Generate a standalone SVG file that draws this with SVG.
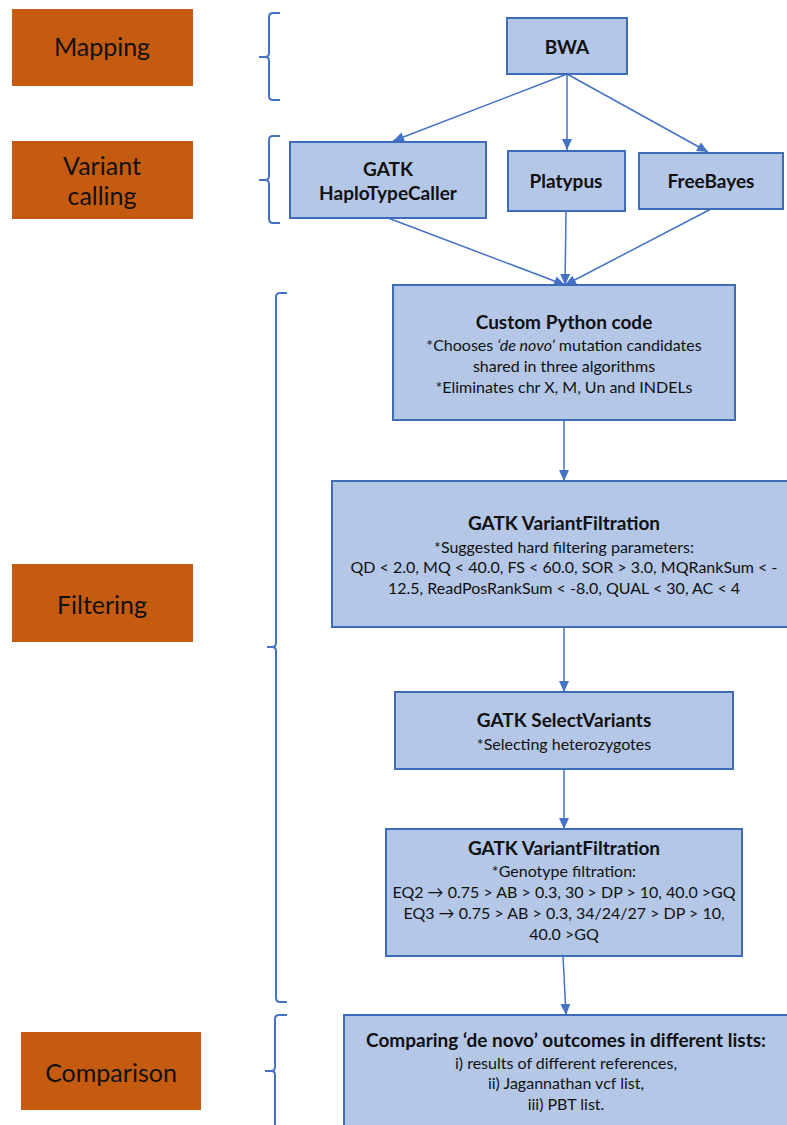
<svg xmlns="http://www.w3.org/2000/svg" width="787" height="1125" viewBox="0 0 787 1125">
<defs>
<style>
.stage{fill:#C55A11;}
.stxt{font-family:Lato,"Liberation Sans",sans-serif;font-size:25px;fill:#111;text-anchor:middle;}
.box{fill:#B4C7E7;stroke:#3F6CB8;stroke-width:2;}
.t{font-family:Lato,"Liberation Sans",sans-serif;font-size:19px;font-weight:bold;fill:#111;text-anchor:middle;}
.b{font-family:Lato,"Liberation Sans",sans-serif;font-size:16px;fill:#111;text-anchor:middle;}
.con line{stroke:#4472C4;stroke-width:1.5;fill:none;marker-end:url(#ah);}
.br{stroke:#4472C4;stroke-width:2;fill:none;}
</style>
<marker id="ah" markerUnits="userSpaceOnUse" markerWidth="12" markerHeight="10" refX="11" refY="5" orient="auto">
<path d="M0,0 L11,5 L0,10 z" fill="#4472C4"/>
</marker>
</defs>
<rect width="787" height="1125" fill="#ffffff"/>

<g id="stage-mapping"><rect class="stage" x="12" y="9" width="181" height="77"/><text class="stxt" x="102" y="56">Mapping</text></g>
<g id="stage-variant"><rect class="stage" x="12" y="141" width="181" height="78"/><text class="stxt" x="102" y="175">Variant</text><text class="stxt" x="102" y="205">calling</text></g>
<g id="stage-filtering"><rect class="stage" x="12" y="564" width="181" height="78"/><text class="stxt" x="102" y="614">Filtering</text></g>
<g id="stage-comparison"><rect class="stage" x="21" y="1032" width="180" height="78"/><text class="stxt" x="111" y="1082">Comparison</text></g>

<g id="brackets">
<path class="br" d="M280,13 H273 Q269,13 269,17 V53 Q269,57 265,57 H259 H265 Q269,57 269,61 V96 Q269,100 273,100 H280"/>
<path class="br" d="M280,136 H273 Q269,136 269,140 V176 Q269,180 265,180 H259 H265 Q269,180 269,184 V219 Q269,223 273,223 H280"/>
<path class="br" d="M287,293 H280 Q276,293 276,297 V643 Q276,647 272,647 H267 H272 Q276,647 276,651 V998 Q276,1002 280,1002 H287"/>
<path class="br" d="M287,1015 H279 Q275,1015 275,1019 V1067 Q275,1071 271,1071 H265 H271 Q275,1071 275,1075 V1130"/>
</g>

<g id="connectors" class="con">
<line x1="567" y1="74" x2="393" y2="141"/>
<line x1="567" y1="74" x2="567" y2="150"/>
<line x1="567" y1="74" x2="708" y2="152"/>
<line x1="388" y1="218" x2="565" y2="285"/>
<line x1="566" y1="211" x2="565" y2="285"/>
<line x1="711" y1="209" x2="565" y2="285"/>
<line x1="564" y1="420" x2="564" y2="481"/>
<line x1="564" y1="627" x2="564" y2="692"/>
<line x1="564" y1="769" x2="564" y2="829"/>
<line x1="563" y1="956" x2="566" y2="1015"/>
</g>

<g id="bwa"><rect class="box" x="507" y="18" width="120" height="56"/><text class="t" x="567" y="54">BWA</text></g>
<g id="gatk-hc"><rect class="box" x="290" y="142" width="196" height="76"/><text class="t" x="388" y="176">GATK</text><text class="t" x="388" y="200">HaploTypeCaller</text></g>
<g id="platypus"><rect class="box" x="508" y="151" width="117" height="60"/><text class="t" x="566" y="188">Platypus</text></g>
<g id="freebayes"><rect class="box" x="639" y="153" width="144" height="56"/><text class="t" x="711" y="188">FreeBayes</text></g>

<g id="custom-python"><rect class="box" x="393" y="285" width="342" height="135"/>
<text class="t" x="564" y="329">Custom Python code</text>
<text class="b" x="564" y="351">*Chooses <tspan font-style="italic">‘de novo’</tspan> mutation candidates</text>
<text class="b" x="564" y="372">shared in three algorithms</text>
<text class="b" x="564" y="393">*Eliminates chr X, M, Un and INDELs</text>
</g>

<g id="variantfiltration-1"><rect class="box" x="332" y="481" width="470" height="146"/>
<text class="t" x="564" y="530">GATK VariantFiltration</text>
<text class="b" x="564" y="553">*Suggested hard filtering parameters:</text>
<text class="b" x="564" y="573">QD &lt; 2.0, MQ &lt; 40.0, FS &lt; 60.0, SOR &gt; 3.0, MQRankSum &lt; -</text>
<text class="b" x="564" y="594">12.5, ReadPosRankSum &lt; -8.0, QUAL &lt; 30, AC &lt; 4</text>
</g>

<g id="selectvariants"><rect class="box" x="395" y="692" width="338" height="77"/>
<text class="t" x="564" y="727">GATK SelectVariants</text>
<text class="b" x="564" y="750">*Selecting heterozygotes</text>
</g>

<g id="variantfiltration-2"><rect class="box" x="386" y="829" width="356" height="127"/>
<text class="t" x="564" y="855">GATK VariantFiltration</text>
<text class="b" x="564" y="877">*Genotype filtration:</text>
<text class="b" x="564" y="898">EQ2 → 0.75 &gt; AB &gt; 0.3, 30 &gt; DP &gt; 10, 40.0 &gt;GQ</text>
<text class="b" x="564" y="919">EQ3 → 0.75 &gt; AB &gt; 0.3, 34/24/27 &gt; DP &gt; 10,</text>
<text class="b" x="564" y="940">40.0 &gt;GQ</text>
</g>

<g id="comparison"><rect class="box" x="344" y="1015" width="446" height="120"/>
<text class="t" x="566" y="1047">Comparing ‘de novo’ outcomes in different lists:</text>
<text class="b" x="566" y="1069">i) results of different references,</text>
<text class="b" x="566" y="1089">ii) Jagannathan vcf list,</text>
<text class="b" x="566" y="1110">iii) PBT list.</text>
</g>
</svg>
